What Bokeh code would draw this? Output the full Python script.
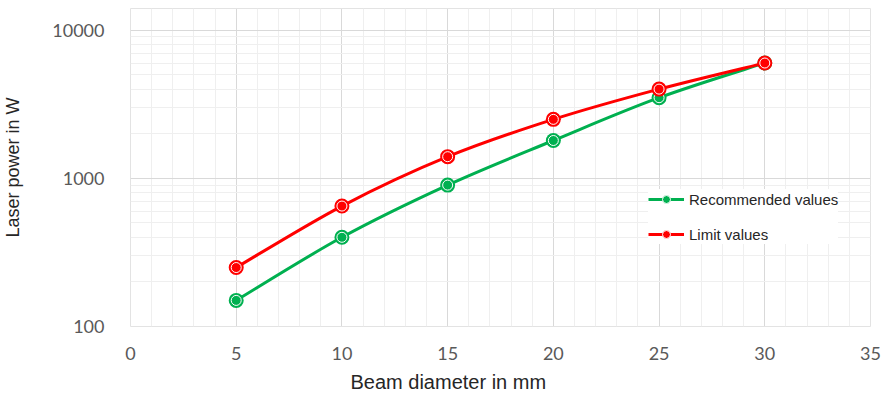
import numpy as np
from bokeh.plotting import figure
from bokeh.models import (FixedTicker, SingleIntervalTicker, PrintfTickFormatter,
                          Legend, LegendItem, Range1d, Title)
from bokeh.embed import file_html
from bokeh.resources import INLINE

# ---- data ----
beam_diameter = [5, 10, 15, 20, 25, 30]
recommended = [150, 400, 900, 1800, 3500, 6000]
limit = [250, 650, 1400, 2500, 4000, 6000]
y_ticks = [100, 1000, 10000]
series_names = ["Recommended values", "Limit values"]
x_title = "Beam diameter in mm"
y_title = "Laser power in W"

GREEN = "#00b050"
RED = "#ff0000"

p = figure(width=887, height=401, output_backend="svg", toolbar_location=None,
           y_axis_type="log", x_range=Range1d(0, 35), y_range=Range1d(100, 14000),
           min_border_left=128, min_border_right=17, min_border_top=8, min_border_bottom=75)
p.background_fill_color = "white"
p.border_fill_color = "white"
p.outline_line_color = "#e3e3e3"

# axes
p.xaxis.ticker = SingleIntervalTicker(interval=5, num_minor_ticks=5)
minor_y = [m * d for d in (100, 1000, 10000) for m in range(2, 10)]
p.yaxis.ticker = FixedTicker(ticks=y_ticks, minor_ticks=minor_y)
p.yaxis.formatter = PrintfTickFormatter(format="%d")
for ax in (p.xaxis, p.yaxis):
    ax.axis_line_color = None
    ax.major_tick_line_color = None
    ax.minor_tick_line_color = None
    ax.major_label_text_font = "Lato"
    ax.major_label_text_font_size = "18px"
    ax.major_label_text_color = "#595959"
    ax.axis_label_text_font = "Liberation Sans"
    ax.axis_label_text_font_style = "normal"
    ax.axis_label_text_color = "#262626"
p.yaxis.axis_label = y_title
p.yaxis.axis_label_text_font_size = "18px"
p.yaxis.major_label_standoff = 20
p.yaxis.axis_label_standoff = 26
p.xaxis.major_label_standoff = 14

# x title placed under the axis, left-offset so it is centred on the whole chart
p.add_layout(Title(text=x_title, align="left", offset=220, standoff=12,
                   text_font="Liberation Sans", text_font_size="20px",
                   text_font_style="normal", text_color="#262626"), "below")

# grids
p.xgrid.ticker = p.xaxis.ticker
p.ygrid.ticker = p.yaxis.ticker
for g in (p.xgrid, p.ygrid):
    g.grid_line_color = "#d9d9d9"
    g.grid_line_width = 1
    g.minor_grid_line_color = "#efefef"
    g.minor_grid_line_width = 1


def smooth_bezier(xs, ys):
    """Catmull-Rom style control points in (x, log10 y) space (Excel smoothing)."""
    x = np.array(xs, dtype=float)
    ly = np.log10(np.array(ys, dtype=float))
    n = len(x)
    out = {k: [] for k in ("x0", "y0", "x1", "y1", "cx0", "cy0", "cx1", "cy1")}
    for i in range(n - 1):
        im1 = max(i - 1, 0)
        ip2 = min(i + 2, n - 1)
        out["x0"].append(x[i]); out["y0"].append(10 ** ly[i])
        out["x1"].append(x[i + 1]); out["y1"].append(10 ** ly[i + 1])
        out["cx0"].append(x[i] + (x[i + 1] - x[im1]) / 6.0)
        out["cy0"].append(10 ** (ly[i] + (ly[i + 1] - ly[im1]) / 6.0))
        out["cx1"].append(x[i + 1] - (x[ip2] - x[i]) / 6.0)
        out["cy1"].append(10 ** (ly[i + 1] - (ly[ip2] - ly[i]) / 6.0))
    return out


items = []
for name, ys, col in ((series_names[0], recommended, GREEN), (series_names[1], limit, RED)):
    b = smooth_bezier(beam_diameter, ys)
    br = p.bezier(line_color=col, line_width=3, **b)
    outer = p.scatter(beam_diameter, ys, size=15, fill_color=col, line_color=None)
    inner = p.scatter(beam_diameter, ys, size=10, fill_color=col, line_color="white", line_width=1)
    items.append(LegendItem(label=name, renderers=[br, outer, inner]))

legend = Legend(items=items, location=(518, 82), padding=0, spacing=15,
                glyph_width=36, glyph_height=20, label_height=20, label_standoff=5,
                label_text_font="Liberation Sans", label_text_font_size="15px",
                label_text_color="#262626", border_line_color=None,
                background_fill_color="white", background_fill_alpha=1.0, margin=0)
p.add_layout(legend, "center")

open("out.html", "w").write(file_html(p, INLINE))
